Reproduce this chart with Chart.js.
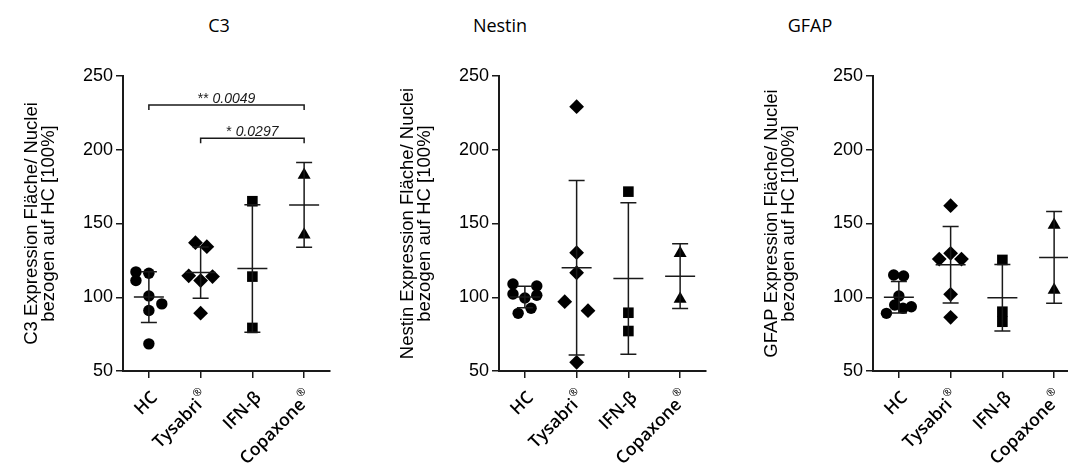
<!DOCTYPE html>
<html>
<head>
<meta charset="utf-8">
<script src="https://cdn.jsdelivr.net/npm/chart.js@4.4.1/dist/chart.umd.min.js"></script>
<style>
html,body{margin:0;padding:0;background:#fff;overflow:hidden;width:1068px;height:468px;position:relative;}
.panel{position:absolute;top:0;width:345px;height:468px;}
.title{position:absolute;top:13px;font-family:"Open Sans",sans-serif;font-size:18px;color:#000;transform:translateX(-50%);white-space:nowrap;}
</style>
</head>
<body>
<div class="title" style="left:219px">C3</div>
<div class="title" style="left:500px">Nestin</div>
<div class="title" style="left:810px">GFAP</div>
<div class="panel" style="left:0px"><canvas id="c1" width="345" height="468"></canvas></div>
<div class="panel" style="left:370px"><canvas id="c2" width="345" height="468"></canvas></div>
<div class="panel" style="left:745px"><canvas id="c3" width="345" height="468"></canvas></div>
<script>
// ---------- data ----------
const categories = ['HC', 'Tysabri®', 'IFN-β', 'Copaxone®'];
const yTicks = [50, 100, 150, 200, 250];

const c3HC        = [117.2, 111.3, 116.3, 100.9, 91.0, 95.5, 68.4];
const c3Tysabri   = [114.5, 111.3, 114.0, 137.0, 134.3, 89.2];
const c3IFN       = [165.1, 114.0, 79.2];
const c3Copaxone  = [182.9, 142.3];

const nestinHC       = [109.0, 107.6, 102.2, 99.5, 101.3, 92.5, 89.1];
const nestinTysabri  = [229.2, 130.2, 116.6, 97.0, 90.9, 55.9];
const nestinIFN      = [171.6, 89.5, 77.1];
const nestinCopaxone = [129.8, 98.8];

const gfapHC       = [115.1, 114.4, 100.8, 89.1, 94.7, 92.5, 93.6];
const gfapTysabri  = [162.1, 129.8, 125.9, 125.9, 102.0, 86.4];
const gfapIFN      = [125.3, 90.2, 83.4];
const gfapCopaxone = [149.0, 105.0];

// horizontal scatter of points within a column (category units)
const c3Jitter = [
  [-0.25, -0.25, 0, 0, 0, 0.25, 0],
  [-0.23, 0, 0.23, -0.10, 0.12, 0],
  [0, 0, 0],
  [0, 0]
];
const nestinJitter = [
  [-0.23, 0.23, -0.23, 0, 0.23, 0.12, -0.13],
  [0, 0, 0, -0.23, 0.22, 0],
  [0, 0, 0],
  [0, 0]
];
const gfapJitter = [
  [-0.1, 0.09, 0, -0.24, -0.08, 0.08, 0.24],
  [0, 0, -0.22, 0.21, 0, 0],
  [0, 0, 0],
  [0, 0]
];

// significance annotations (C3 only)
const c3SigFrom  = [0, 1];
const c3SigTo    = [3, 3];
const c3SigLevel = [230.3, 207.8];
const c3SigStars = ['**', '*'];
const c3SigP     = ['0.0049', '0.0297'];

// ---------- drawing ----------
const markerStyles = [
  {pointStyle: 'circle', radius: 5.7},
  {pointStyle: 'rectRot', radius: 7.4},
  {pointStyle: 'rect', radius: 7.5},
  {pointStyle: 'triangle', radius: 7.5}
];
const INK = '#1a1a1a';
const LABEL_FONT = '600 17.5px "Open Sans", sans-serif';
const SUP_FONT = '600 11px "Open Sans", sans-serif';

function meanSD(arr) {
  const m = arr.reduce((a, b) => a + b, 0) / arr.length;
  const v = arr.reduce((a, b) => a + (b - m) * (b - m), 0) / (arr.length - 1);
  return [m, Math.sqrt(v)];
}

const errorBarPlugin = {
  id: 'errbars',
  afterDatasetsDraw(chart) {
    const ctx = chart.ctx, xs = chart.scales.x, ys = chart.scales.y;
    const groups = chart.options.plugins.errbars.groups;
    ctx.save();
    ctx.strokeStyle = INK;
    ctx.lineWidth = 1.5;
    groups.forEach((g, i) => {
      const [m, sd] = meanSD(g);
      const x = xs.getPixelForValue(i);
      const yM = ys.getPixelForValue(m);
      const yT = ys.getPixelForValue(m + sd);
      const yB = ys.getPixelForValue(m - sd);
      ctx.beginPath();
      ctx.moveTo(x, yT); ctx.lineTo(x, yB);
      ctx.moveTo(x - 8, yT); ctx.lineTo(x + 8, yT);
      ctx.moveTo(x - 8, yB); ctx.lineTo(x + 8, yB);
      ctx.moveTo(x - 15, yM); ctx.lineTo(x + 15, yM);
      ctx.stroke();
    });
    const sig = chart.options.plugins.errbars.sig;
    if (sig) {
      sig.from.forEach((f, k) => {
        const x1 = xs.getPixelForValue(f);
        const x2 = xs.getPixelForValue(sig.to[k]);
        const y = ys.getPixelForValue(sig.level[k]);
        ctx.beginPath();
        ctx.moveTo(x1, y + 5); ctx.lineTo(x1, y); ctx.lineTo(x2, y); ctx.lineTo(x2, y + 5);
        ctx.stroke();
        ctx.fillStyle = INK;
        ctx.textBaseline = 'alphabetic';
        ctx.textAlign = 'left';
        const fN = '14px "Liberation Sans", Arial, sans-serif';
        const fI = 'italic 14px "Liberation Sans", Arial, sans-serif';
        ctx.font = fN;
        const sTxt = sig.stars[k] + ' ';
        const wS = ctx.measureText(sTxt).width;
        ctx.font = fI;
        const wP = ctx.measureText(sig.p[k]).width;
        const start = (x1 + x2) / 2 - (wS + wP) / 2;
        ctx.font = fN;
        ctx.fillText(sTxt, start, y - 2.5);
        ctx.font = fI;
        ctx.fillText(sig.p[k], start + wS, y - 2.5);
      });
    }
    ctx.restore();
  },
  afterDraw(chart) {
    // rotated category labels with superscript ®
    const ctx = chart.ctx, xs = chart.scales.x;
    ctx.save();
    ctx.fillStyle = '#000';
    xs.ticks.forEach(t => {
      const label = categories[t.value];
      const x = xs.getPixelForValue(t.value);
      const parts = label.split('®');
      const hasSup = parts.length > 1;
      ctx.save();
      ctx.translate(x + 6, xs.top + 24);
      ctx.rotate(-Math.PI / 4);
      ctx.textBaseline = 'middle';
      ctx.textAlign = 'right';
      let supW = 0;
      if (hasSup) {
        ctx.font = SUP_FONT;
        supW = ctx.measureText('®').width + 1;
        ctx.fillText('®', 0, -8);
      }
      ctx.font = LABEL_FONT;
      ctx.fillText(parts[0], -supW, 0);
      ctx.restore();
    });
    ctx.restore();
  }
};

function makeChart(id, groups, jitter, titleLines, padLeft, yWidth, sig) {
  const datasets = groups.map((g, i) => ({
    data: g.map((v, j) => ({x: i + jitter[i][j], y: v})),
    pointStyle: markerStyles[i].pointStyle,
    pointRadius: markerStyles[i].radius,
    pointHoverRadius: markerStyles[i].radius,
    backgroundColor: '#000',
    borderColor: '#000',
    borderWidth: 0,
    showLine: false
  }));
  return new Chart(document.getElementById(id), {
    type: 'scatter',
    data: {datasets},
    plugins: [errorBarPlugin],
    options: {
      responsive: false,
      animation: false,
      events: [],
      layout: {padding: {left: padLeft, top: 76, right: 345 - padLeft - yWidth - 207, bottom: 0}},
      plugins: {
        legend: {display: false},
        tooltip: {enabled: false},
        errbars: {groups, sig}
      },
      scales: {
        x: {
          type: 'linear', min: -0.5, max: 3.5,
          afterBuildTicks: s => { s.ticks = categories.map((c, i) => ({value: i})); },
          afterFit: s => { s.height = 97; },
          ticks: {display: false},
          grid: {drawOnChartArea: false, drawTicks: true, tickLength: 7, color: INK, lineWidth: 1.5},
          border: {color: INK, width: 2}
        },
        y: {
          min: 50, max: 250,
          afterBuildTicks: s => { s.ticks = yTicks.map(v => ({value: v})); },
          afterFit: s => { s.width = yWidth; },
          ticks: {font: {family: '"Liberation Sans", Arial, sans-serif', size: 18}, color: '#000', padding: 3},
          grid: {drawOnChartArea: false, drawTicks: true, tickLength: 7, color: INK, lineWidth: 1.5},
          border: {color: INK, width: 2},
          title: {
            display: true, text: titleLines, color: '#000', padding: 0,
            font: {family: '"Liberation Sans", Arial, sans-serif', size: 18.5, lineHeight: 0.95}
          }
        }
      }
    }
  });
}

makeChart('c1', [c3HC, c3Tysabri, c3IFN, c3Copaxone], c3Jitter,
  ['C3 Expression Fläche/ Nuclei', 'bezogen auf HC [100%]'], 23, 100,
  {from: c3SigFrom, to: c3SigTo, level: c3SigLevel, stars: c3SigStars, p: c3SigP});
makeChart('c2', [nestinHC, nestinTysabri, nestinIFN, nestinCopaxone], nestinJitter,
  ['Nestin Expression Fläche/ Nuclei', 'bezogen auf HC [100%]'], 29, 100, null);
makeChart('c3', [gfapHC, gfapTysabri, gfapIFN, gfapCopaxone], gfapJitter,
  ['GFAP Expression Fläche/ Nuclei', 'bezogen auf HC [100%]'], 18, 110, null);
</script>
</body>
</html>
